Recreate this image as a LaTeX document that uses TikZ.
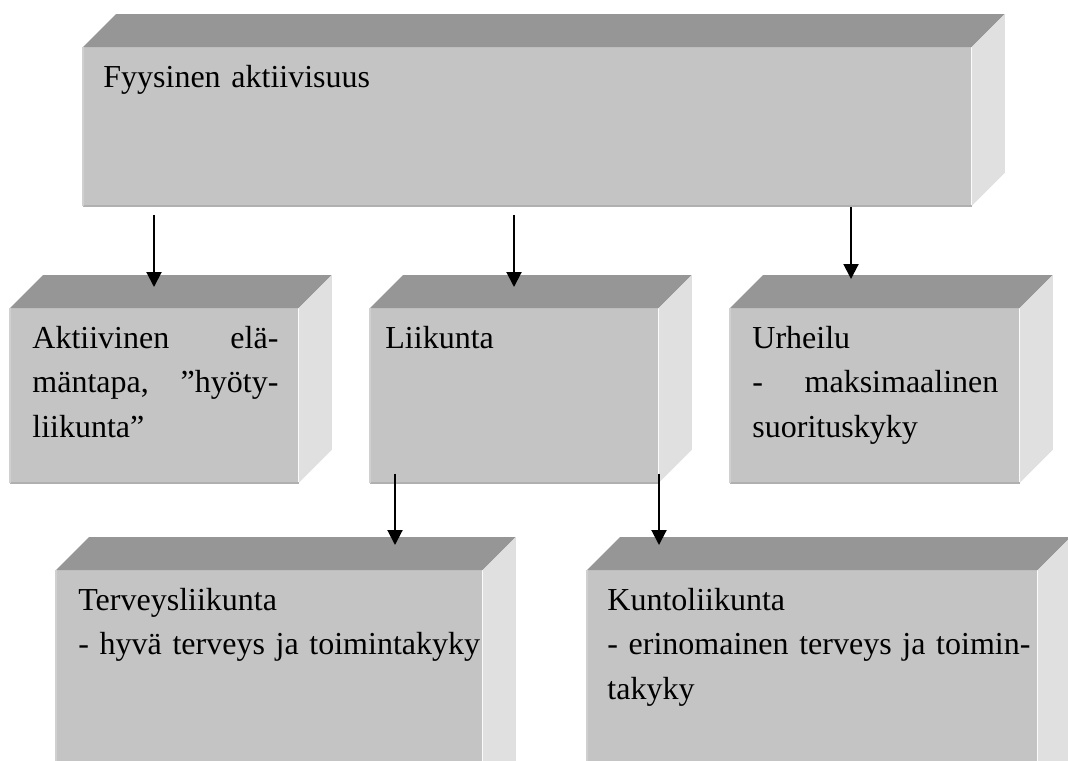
\documentclass[tikz,border=0pt]{standalone}
\usepackage{fontspec}
\setmainfont{Liberation Serif}
\usetikzlibrary{arrows.meta}
\definecolor{facegray}{HTML}{C4C4C4}
\definecolor{topgray}{HTML}{969696}
\definecolor{sidegray}{HTML}{E0E0E0}
\definecolor{rimgray}{HTML}{B0B0B0}
\definecolor{edgegray}{HTML}{D0D0D0}
\newcommand{\blockdepth}{33}
% top face, side face and rims of a block
\newcommand{\blockfaces}[1]{%
  \fill[topgray] (#1.north west) -- ++(\blockdepth,-\blockdepth)
     -- ([shift={(\blockdepth,-\blockdepth)}]#1.north east) -- (#1.north east) -- cycle;
  \fill[sidegray] (#1.north east) -- ++(\blockdepth,-\blockdepth)
     -- ([shift={(\blockdepth,-\blockdepth)}]#1.south east) -- (#1.south east) -- cycle;
  \draw[rimgray, line width=1pt] (#1.south west) -- (#1.south east);
  \draw[edgegray, line width=1pt] (#1.south west) -- (#1.north west);}

\begin{document}
\begin{tikzpicture}[x=0.5pt, y=-0.5pt,
  front/.style={anchor=north west, fill=facegray, inner sep=0pt, minimum height=87pt, minimum width=144pt},
  txt/.style={anchor=north west, inner sep=0pt, align=left, font=\fontsize{16pt}{22.25pt}\selectfont,
     execute at begin node=\strut},
  arr/.style={-{Triangle[length=7.5pt, width=7.5pt]}, line width=1pt}]
  \clip (0,0) rectangle (1068,760);
  % blocks
  \node[front, minimum width=444pt, minimum height=79pt] (fyys) at (83,47) {};
  \node[front] (akt) at (10,308) {};
  \node[front] (liik) at (370,308) {};
  \node[front, minimum width=144.5pt] (urh) at (730,308) {};
  \node[front, minimum width=213pt, minimum height=115pt] (terv) at (56,570) {};
  \node[front, minimum width=225pt, minimum height=115pt] (kunto) at (587,570) {};
  \blockfaces{fyys}
  \blockfaces{akt}
  \blockfaces{liik}
  \blockfaces{urh}
  \blockfaces{terv}
  \blockfaces{kunto}
  % texts
  \node[txt, text width=423pt] (fyystxt) at ([shift={(20,8.8)}]fyys.north west) {Fyysinen aktiivisuus};
  \node[txt, text width=123pt] (akttxt) at ([shift={(22,8.8)}]akt.north west)
     {Aktiivinen\hfill elä-\\ mäntapa,\hfill ”hyöty-\\ liikunta”};
  \node[txt, text width=123pt] (liiktxt) at ([shift={(15,8.8)}]liik.north west) {Liikunta};
  \node[txt, text width=123pt] (urhtxt) at ([shift={(22,8.8)}]urh.north west)
     {Urheilu\\ -\hfill maksimaalinen\\ suorituskyky};
  \node[txt, text width=205pt] (tervtxt) at ([shift={(22,8.8)}]terv.north west)
     {Terveysliikunta\\ - hyvä terveys ja toimintakyky};
  \node[txt, text width=215pt] (kuntotxt) at ([shift={(20,8.8)}]kunto.north west)
     {Kuntoliikunta\\ - erinomainen terveys ja toimin-\\ takyky};
  % arrows
  \draw[arr] ([shift={(71,9)}]fyys.south west) -- ([shift={(144,-21)}]akt.north west);
  \draw[arr] ([shift={(431,9)}]fyys.south west) -- ([shift={(144,-21)}]liik.north west);
  \draw[arr] ([shift={(768,1)}]fyys.south west) -- ([shift={(121,-29)}]urh.north west);
  \draw[arr] ([shift={(25,-9)}]liik.south west) -- ([shift={(339,-25)}]terv.north west);
  \draw[arr] ([shift={(289,-9)}]liik.south west) -- ([shift={(72,-25)}]kunto.north west);
\end{tikzpicture}
\end{document}
